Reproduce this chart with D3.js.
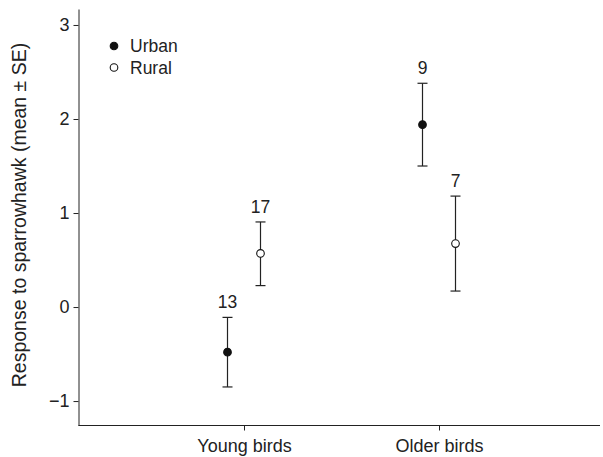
<!DOCTYPE html>
<html>
<head>
<meta charset="utf-8">
<script src="https://cdn.jsdelivr.net/npm/d3@7"></script>
<style>
  body { margin: 0; background: #fff; }
  svg { font-family: "Liberation Sans", Arial, sans-serif; }
  .axis text { font-size: 18px; fill: #222; }
  .axis path, .axis line { stroke: #222; }
</style>
</head>
<body>
<svg id="chart" width="603" height="457"></svg>
<script>
// data
const groups = ['Young birds', 'Older birds'];
const series = ['Urban', 'Rural'];
const means = { Urban: [-0.48, 1.94], Rural: [0.57, 0.675] };
const upper = { Urban: [-0.11, 2.38], Rural: [0.905, 1.18] };
const lower = { Urban: [-0.85, 1.50], Rural: [0.228, 0.17] };
const counts = { Urban: [13, 9], Rural: [17, 7] };
const yTicks = [-1, 0, 1, 2, 3];

function translate(x, y) {
    return `translate(${x}, ${y})`;
}

const svg = d3.select('#chart');
const axisLeftX = 78.5, axisBottomY = 425.5;

const y = d3.scaleLinear().domain([-1.26, 3.17]).range([axisBottomY, 9]);
const x = d3.scalePoint().domain(groups).range([244, 439]);
const sub = d3.scalePoint().domain(series).range([-16.5, 16.5]);

// y axis
const yAxisG = svg.append('g').attr('class', 'axis')
    .attr('transform', translate(axisLeftX, 0))
    .call(d3.axisLeft(y).tickValues(yTicks).tickSize(5).tickSizeOuter(0)
        .tickFormat(d => d < 0 ? '\u2212' + Math.abs(d) : d));
yAxisG.selectAll('.tick text').attr('x', -9);

// x axis
const xAxisG = svg.append('g').attr('class', 'axis')
    .attr('transform', translate(0, axisBottomY))
    .call(d3.axisBottom(x).tickSize(5).tickSizeOuter(0));
xAxisG.select('.domain').remove();
xAxisG.append('line').attr('x1', axisLeftX).attr('x2', 600)
    .attr('y1', 0).attr('y2', 0).attr('stroke', '#222');
xAxisG.selectAll('.tick text').attr('y', 10).attr('dy', '0.9em');

// y title
svg.append('text')
    .attr('transform', translate(26, 215) + ' rotate(-90)')
    .style('text-anchor', 'middle')
    .style('font-size', '19.5px')
    .style('fill', '#222')
    .text('Response to sparrowhawk (mean \u00b1 SE)');

// points with error bars
const pts = [];
series.forEach(s => groups.forEach((g, i) => pts.push({
    s, g, mean: means[s][i], hi: upper[s][i], lo: lower[s][i], n: counts[s][i]
})));

const marks = svg.append('g').selectAll('g').data(pts).enter().append('g')
    .attr('transform', d => translate(x(d.g) + sub(d.s), 0));
marks.append('line')
    .attr('y1', d => y(d.hi)).attr('y2', d => y(d.lo))
    .attr('stroke', '#222').attr('stroke-width', 1.2);
marks.append('line')
    .attr('x1', -5).attr('x2', 5)
    .attr('y1', d => y(d.hi)).attr('y2', d => y(d.hi))
    .attr('stroke', '#222').attr('stroke-width', 1.2);
marks.append('line')
    .attr('x1', -5).attr('x2', 5)
    .attr('y1', d => y(d.lo)).attr('y2', d => y(d.lo))
    .attr('stroke', '#222').attr('stroke-width', 1.2);
marks.append('circle')
    .attr('cy', d => y(d.mean))
    .attr('r', 3.8)
    .attr('fill', d => d.s === 'Urban' ? '#111' : '#fff')
    .attr('stroke', '#111').attr('stroke-width', 1.1);
marks.append('text')
    .attr('y', d => y(d.hi) - 9)
    .style('text-anchor', 'middle')
    .style('font-size', '17.5px')
    .style('fill', '#222')
    .text(d => d.n);

// legend
const legend = svg.append('g').attr('transform', translate(114, 46));
const items = legend.selectAll('g').data(series).enter().append('g')
    .attr('transform', (d, i) => translate(0, 21.5 * i));
items.append('circle')
    .attr('r', 3.8)
    .attr('fill', d => d === 'Urban' ? '#111' : '#fff')
    .attr('stroke', '#111').attr('stroke-width', 1.1);
items.append('text')
    .attr('x', 16).attr('dy', '0.35em')
    .style('font-size', '17.5px')
    .style('fill', '#222')
    .text(d => d);
</script>
</body>
</html>
